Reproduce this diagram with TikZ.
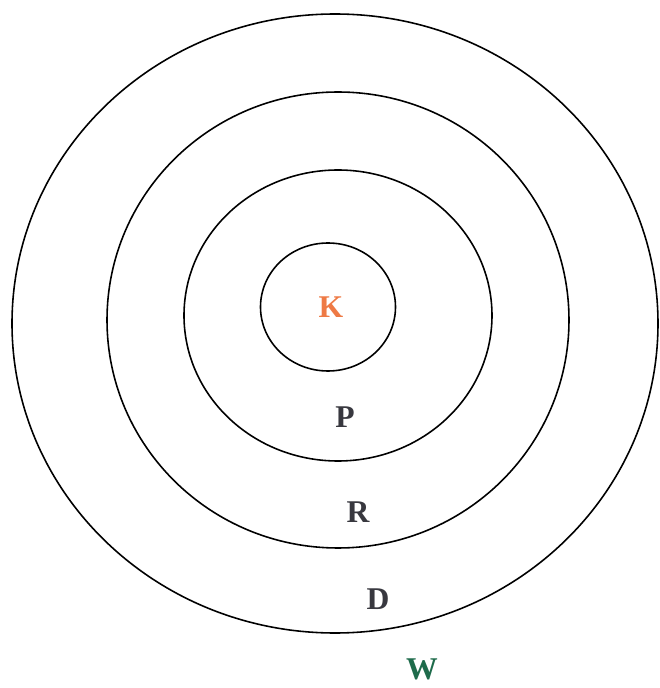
\documentclass[tikz,border=0pt]{standalone}
\usepackage{fontspec}
\setmainfont{Liberation Serif}
\usetikzlibrary{positioning}
\definecolor{korange}{HTML}{EE7A45}
\definecolor{slategrey}{HTML}{38383F}
\definecolor{wgreen}{HTML}{1E6B4B}
\tikzset{
  ring/.style={draw=black,line width=0.9pt},
  lbl/.style={font=\fontsize{18}{20}\selectfont\bfseries,text=#1,inner sep=0pt},
}
\begin{document}
\begin{tikzpicture}
    \useasboundingbox (0,0) rectangle (13.18,13.76);
    % rings, outer to inner
    \foreach \name/\x/\y/\rx/\ry in {outer/6.70/7.29/6.46/6.19, middle/6.76/7.36/4.62/4.56,
                                     inner/6.76/7.45/3.08/2.91, core/6.56/7.62/1.35/1.28} {
      \draw[ring] (\x,\y) ellipse [x radius=\rx cm, y radius=\ry cm];
    }
    \node[lbl=korange] (k) at (6.62,7.62) {K};
    \node[lbl=slategrey] (p) at (6.90,5.42) {P};
    \node[lbl=slategrey] (r) at (7.16,3.52) {R};
    \node[lbl=slategrey] (d) at (7.56,1.78) {D};
    \node[lbl=wgreen] (w) at (8.44,0.38) {W};
  \end{tikzpicture}
\end{document}
